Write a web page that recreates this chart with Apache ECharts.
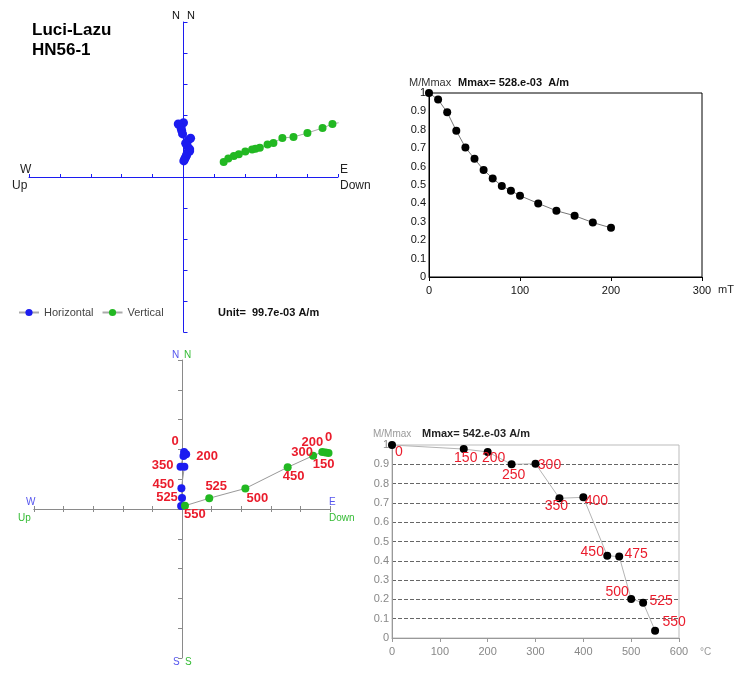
<!DOCTYPE html>
<html>
<head>
<meta charset="utf-8">
<script src="https://cdn.jsdelivr.net/npm/echarts@6/dist/echarts.min.js"></script>
<style>
    html, body { margin: 0; padding: 0; background: #fff; }
    #chart { width: 735px; height: 673px; }
</style>
</head>
<body>
<div id="chart"></div>
<script>
const FONT = "'Liberation Sans', Arial, sans-serif"
const BLUE = '#1c1cf0'
const GREEN = '#22b822'
const RED = '#ea1c2c'

// AF demagnetisation (top row)
const afSteps = [0, 10, 20, 30, 40, 50, 60, 70, 80, 90, 100, 120, 140, 160, 180, 200]
const afRatio = [1.0, 0.964, 0.895, 0.795, 0.704, 0.642, 0.582, 0.536, 0.495, 0.469, 0.442, 0.40, 0.36, 0.333, 0.296, 0.267]
const afHorizontal = [[0.0, 1.75], [-0.17, 1.71], [-0.08, 1.58], [-0.06, 1.50], [-0.03, 1.39], [0.23, 1.25], [0.15, 1.18], [0.07, 1.09],
    [0.12, 1.0], [0.2, 0.9], [0.2, 0.84], [0.12, 0.77], [0.1, 0.70], [0.07, 0.64], [0.04, 0.58], [0.01, 0.52]]
const afVertical = [[5.02, 1.75], [4.82, 1.71], [4.5, 1.58], [4.01, 1.42], [3.56, 1.29], [3.2, 1.26], [2.91, 1.10], [2.72, 1.05],
    [2.47, 0.94], [2.33, 0.91], [2.22, 0.89], [2.0, 0.82], [1.79, 0.73], [1.63, 0.68], [1.45, 0.60], [1.30, 0.48]]

// thermal demagnetisation (bottom row)
const thSteps = [0, 150, 200, 250, 300, 350, 400, 450, 475, 500, 525, 550]
const thRatio = [1.0, 0.979, 0.964, 0.9, 0.903, 0.724, 0.729, 0.426, 0.422, 0.202, 0.183, 0.038]
const thHorizontal = [[0.07, 1.91], [0.14, 1.84], [0.05, 1.78], [-0.05, 1.42], [0.08, 1.42], [-0.02, 0.70], [0.0, 0.37], [-0.03, 0.10]]
const thHorizontalSteps = ['0', '200', '', '350', '', '450', '525', '']
const thVertical = [[4.95, 1.88], [4.85, 1.90], [4.74, 1.91], [4.43, 1.79], [3.57, 1.40], [2.14, 0.69], [0.92, 0.36], [0.10, 0.11]]
const thVerticalSteps = ['0', '150', '200', '300', '450', '500', '525', '550']

// where each step label sits, px from its point
const thRatioLabelOffset = [[7, 7], [2, 9], [6, 6], [2, 11], [14, 1], [-3, 8], [13, 4], [-15, -4], [17, -2], [-14, -7], [18, -2], [19, -9]]
const thHorizontalLabelOffset = [[-9, -11], [21, 2], null, [-18, -1], null, [-18, -4], [-15, -1], null]
const thVerticalLabelOffset = [[0, -16], [-2, 12], [-10, -10], [-11, -3], [6, 9], [12, 10], [7, -12], [10, 9]]

function zijX(gridIndex, color, position, inside, onZeroAxisIndex) {
    return {
        type: 'value', gridIndex, position, min: -5, max: 5, interval: 1,
        axisLine: { onZero: true, onZeroAxisIndex, lineStyle: { color, width: 1 } },
        axisTick: { length: 3, inside, lineStyle: { color } },
        axisLabel: { show: false },
        splitLine: { show: false }
    }
}

function zijY(gridIndex, color, inside) {
    return {
        type: 'value', gridIndex, min: -5, max: 5, interval: 1,
        axisLine: { onZero: true, lineStyle: { color, width: 1 } },
        axisTick: { length: 4, inside, lineStyle: { color } },
        axisLabel: { show: false },
        splitLine: { show: false }
    }
}

function labelled(points, names, offsets) {
    return points.map((p, i) => ({
        value: p,
        name: names[i],
        label: { show: names[i] !== '', offset: offsets[i] || [0, 0] }
    }))
}

const stepLabel = (size, weight) => ({
    show: true, position: 'inside', formatter: '{b}',
    color: RED, fontFamily: FONT, fontSize: size, fontWeight: weight,
    textBorderWidth: 0
})

function txt(x, y, text, size, color, weight, align) {
    return {
        type: 'text', x, y, silent: true,
        style: {
            text, fill: color || '#000', align: align || 'left', verticalAlign: 'middle',
            font: (weight || 'normal') + ' ' + size + 'px ' + FONT
        }
    }
}

const chart = echarts.init(document.getElementById('chart'))

const option = {
    animation: false,
    backgroundColor: '#fff',
    textStyle: { fontFamily: FONT },
    grid: [
        { left: 29, top: 22, width: 309, height: 310 },
        { left: 429, top: 93, width: 273, height: 184, show: true, borderColor: '#000', borderWidth: 1 },
        { left: 34, top: 360, width: 296, height: 298 },
        { left: 392, top: 445, width: 287, height: 193, show: true, borderColor: '#bbb', borderWidth: 1 }
    ],
    xAxis: [
        zijX(0, BLUE, 'bottom', true),
        {
            type: 'value', gridIndex: 1, min: 0, max: 300, interval: 100,
            axisLine: { lineStyle: { color: '#000' } },
            axisTick: { length: 4, lineStyle: { color: '#000' } },
            axisLabel: { color: '#111', fontSize: 11, margin: 8 },
            splitLine: { show: false }
        },
        zijX(2, '#8a8a8a', 'bottom', false),
        // second copy on top so the ticks cross the W-E line
        zijX(2, '#8a8a8a', 'top', false, 4),
        {
            type: 'value', gridIndex: 3, min: 0, max: 600, interval: 100,
            axisLine: { lineStyle: { color: '#999' } },
            axisTick: { length: 4, lineStyle: { color: '#999' } },
            axisLabel: { color: '#888', fontSize: 11, margin: 8 },
            splitLine: { show: false }
        }
    ],
    yAxis: [
        zijY(0, BLUE, true),
        {
            type: 'value', gridIndex: 1, min: 0, max: 1, interval: 0.1,
            axisLine: { lineStyle: { color: '#000' } },
            axisTick: { show: false },
            axisLabel: { color: '#111', fontSize: 11, margin: 3 },
            splitLine: { show: false }
        },
        zijY(2, '#8a8a8a', false),
        {
            type: 'value', gridIndex: 3, min: 0, max: 1, interval: 0.1,
            axisLine: { lineStyle: { color: '#999' } },
            axisTick: { show: false },
            axisLabel: { color: '#888', fontSize: 11, margin: 3 },
            splitLine: { show: true, showMinLine: false, showMaxLine: false, lineStyle: { color: '#666', type: 'dashed', width: 1 } }
        },
        { type: 'value', gridIndex: 2, min: -5, max: 5, show: false, axisLine: { onZero: false } }
    ],
    legend: {
        left: 13, top: 302, itemWidth: 20, itemHeight: 9, itemGap: 8,
        data: ['Horizontal', 'Vertical'],
        textStyle: { fontFamily: FONT, fontSize: 11, color: '#444' }
    },
    series: [
        {
            name: 'Horizontal', type: 'line', xAxisIndex: 0, yAxisIndex: 0,
            symbol: 'circle', symbolSize: 9, itemStyle: { color: BLUE },
            lineStyle: { color: '#aaa', width: 1 }, data: afHorizontal
        },
        {
            name: 'Vertical', type: 'line', xAxisIndex: 0, yAxisIndex: 0,
            symbol: 'circle', symbolSize: 8, itemStyle: { color: GREEN },
            lineStyle: { color: '#aaa', width: 1 }, data: afVertical
        },
        {
            name: 'AF', type: 'line', xAxisIndex: 1, yAxisIndex: 1,
            symbol: 'circle', symbolSize: 8, itemStyle: { color: '#000' },
            lineStyle: { color: '#777', width: 1 },
            data: afSteps.map((s, i) => [s, afRatio[i]])
        },
        {
            name: 'thHorizontal', type: 'line', xAxisIndex: 2, yAxisIndex: 2,
            symbol: 'circle', symbolSize: 8, itemStyle: { color: BLUE },
            lineStyle: { color: '#999', width: 1 },
            label: stepLabel(13, 'bold'),
            data: labelled(thHorizontal, thHorizontalSteps, thHorizontalLabelOffset)
        },
        {
            name: 'thVertical', type: 'line', xAxisIndex: 2, yAxisIndex: 2,
            symbol: 'circle', symbolSize: 8, itemStyle: { color: GREEN },
            lineStyle: { color: '#999', width: 1 },
            label: stepLabel(13, 'bold'),
            data: labelled(thVertical, thVerticalSteps, thVerticalLabelOffset)
        },
        {
            name: 'Thermal', type: 'line', xAxisIndex: 4, yAxisIndex: 3,
            symbol: 'circle', symbolSize: 8, itemStyle: { color: '#000' },
            lineStyle: { color: '#b4b4b4', width: 1 },
            label: stepLabel(14, 'normal'),
            data: labelled(thSteps.map((s, i) => [s, thRatio[i]]), thSteps.map(String), thRatioLabelOffset)
        }
    ],
    graphic: [
        txt(32, 30, 'Luci-Lazu', 17, '#000', 'bold'),
        txt(32, 50, 'HN56-1', 17, '#000', 'bold'),
        txt(172, 16, 'N', 11, '#111'),
        txt(187, 16, 'N', 11, '#111'),
        txt(20, 170, 'W', 12, '#222'),
        txt(12, 186, 'Up', 12, '#222'),
        txt(340, 170, 'E', 12, '#222'),
        txt(340, 186, 'Down', 12, '#222'),
        txt(218, 313, 'Unit=  99.7e-03 A/m', 11, '#111', 'bold'),

        txt(409, 83, 'M/Mmax', 11, '#333'),
        txt(458, 83, 'Mmax= 528.e-03  A/m', 11, '#111', 'bold'),
        txt(718, 290, 'mT', 11, '#222'),

        txt(172, 355, 'N', 10, '#5555ee'),
        txt(184, 355, 'N', 10, '#33bb33'),
        txt(173, 662, 'S', 10, '#5555ee'),
        txt(185, 662, 'S', 10, '#33bb33'),
        txt(26, 502, 'W', 10, '#5555ee'),
        txt(18, 518, 'Up', 10, '#33bb33'),
        txt(329, 502, 'E', 10, '#5555ee'),
        txt(329, 518, 'Down', 10, '#33bb33'),

        txt(373, 434, 'M/Mmax', 10, '#999'),
        txt(422, 434, 'Mmax= 542.e-03 A/m', 11, '#222', 'bold'),
        txt(700, 652, '°C', 10, '#999')
    ]
}

chart.setOption(option)
</script>
</body>
</html>
